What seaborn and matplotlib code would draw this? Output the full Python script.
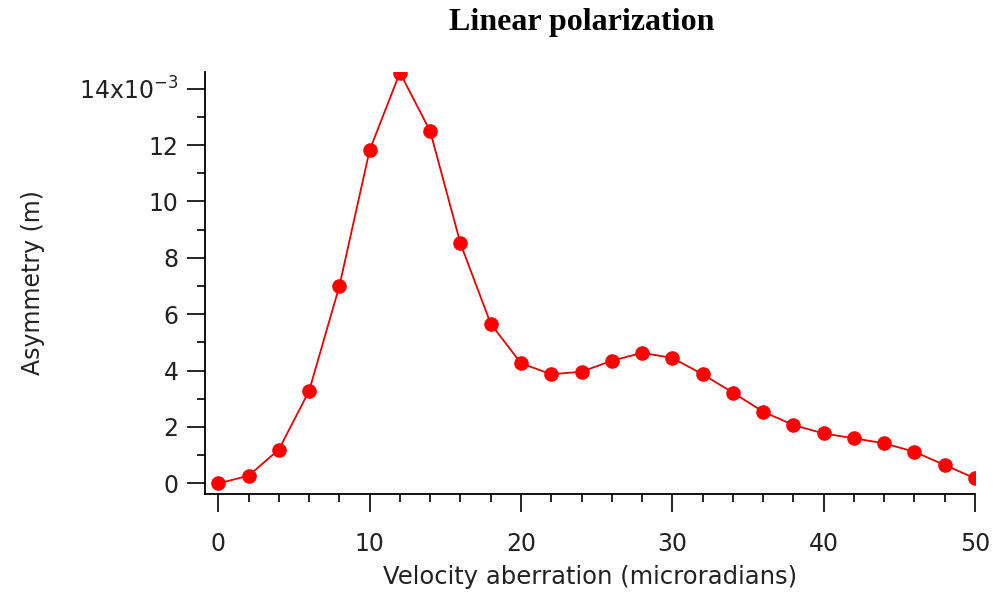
#!/usr/bin/env python3
"""Linear polarization asymmetry vs velocity aberration."""

import pandas as pd
import matplotlib
matplotlib.use("Agg")
import matplotlib.pyplot as plt
from matplotlib.ticker import MultipleLocator, FuncFormatter
import seaborn as sns

# velocity aberration (microradians)
aberration = [0, 2, 4, 6, 8, 10, 12, 14, 16, 18, 20, 22, 24,
              26, 28, 30, 32, 34, 36, 38, 40, 42, 44, 46, 48, 50]
# asymmetry in units of 1e-3 m
asymmetry = [0.0, 0.27, 1.2, 3.28, 7.0, 11.82, 14.57, 12.49, 8.51, 5.66,
             4.26, 3.87, 3.96, 4.35, 4.63, 4.45, 3.87, 3.22, 2.54, 2.07,
             1.77, 1.6, 1.42, 1.12, 0.65, 0.18]

title = "Linear polarization"
xlabel = "Velocity aberration (microradians)"
ylabel = "Asymmetry (m)"

df = pd.DataFrame({"x": aberration, "y": asymmetry})

sns.set_style("ticks")
plt.rcParams["font.family"] = ["DejaVu Sans"]

fig = plt.figure(figsize=(9.99, 5.98), dpi=100)
ax = fig.add_axes([0.2052, 0.1747, 0.976 - 0.2052, 0.880 - 0.1747])

sns.lineplot(data=df, x="x", y="y", ax=ax, color="#e60000", linewidth=1.3,
             marker="o", markersize=10.5, markerfacecolor="#ff0000",
             markeredgecolor="#ff0000", markeredgewidth=0)

ax.set_xlim(-0.88, 50)
ax.set_ylim(-0.36, 14.6)

ax.xaxis.set_major_locator(MultipleLocator(10))
ax.xaxis.set_minor_locator(MultipleLocator(2))
ax.yaxis.set_major_locator(MultipleLocator(2))
ax.yaxis.set_minor_locator(MultipleLocator(1))


def ylab(v, pos):
    if abs(v - 14) < 1e-6:
        return r"14x10$^{\mathregular{-3}}$"
    return f"{v:.0f}"


ax.yaxis.set_major_formatter(FuncFormatter(ylab))

txt = "#222222"
ax.tick_params(axis="both", which="major", length=13, width=1.2,
               labelsize=17, colors="black", labelcolor=txt)
ax.tick_params(axis="both", which="minor", length=6, width=1.2, colors="black")
ax.tick_params(axis="x", which="major", pad=15)
ax.tick_params(axis="y", which="major", pad=6)

for s in ["left", "bottom"]:
    ax.spines[s].set_linewidth(1.3)
    ax.spines[s].set_color("black")
sns.despine(ax=ax)

ax.set_xlabel(xlabel, fontsize=17.5, color=txt, labelpad=6)
ax.set_ylabel(ylabel, fontsize=17, color=txt, labelpad=25)

fig.text(0.582, 0.962, title, ha="center", va="center", fontsize=23,
         fontweight="bold", color="black", family=["Liberation Serif"])

fig.savefig("out.png", dpi=100)
